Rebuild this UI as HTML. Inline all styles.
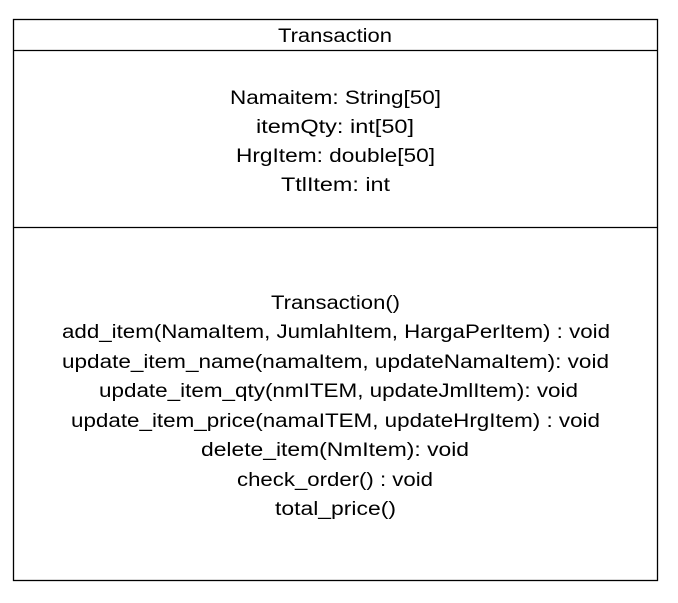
<!DOCTYPE html>
<html><head><meta charset="utf-8"><style>
html,body{margin:0;padding:0;background:#fff;width:678px;height:603px;overflow:hidden}
text{font-family:"Liberation Sans",sans-serif;font-size:19px;fill:#000}
</style></head><body>
<svg width="678" height="603" xmlns="http://www.w3.org/2000/svg">
<rect x="13.5" y="19.5" width="644" height="561" fill="#fff" stroke="#000" stroke-width="1.3"/>
<line x1="13" y1="50.5" x2="658" y2="50.5" stroke="#000" stroke-width="1.3"/>
<line x1="13" y1="227.5" x2="658" y2="227.5" stroke="#000" stroke-width="1.3"/>
<g text-anchor="middle" lengthAdjust="spacingAndGlyphs">
<text x="335" y="42" textLength="114" lengthAdjust="spacingAndGlyphs">Transaction</text>
<text x="335.5" y="104" textLength="211" lengthAdjust="spacingAndGlyphs">Namaitem: String[50]</text>
<text x="335" y="133" textLength="158" lengthAdjust="spacingAndGlyphs">itemQty: int[50]</text>
<text x="335.5" y="162" textLength="199" lengthAdjust="spacingAndGlyphs">HrgItem: double[50]</text>
<text x="335.5" y="191" textLength="109" lengthAdjust="spacingAndGlyphs">TtlItem: int</text>
<text x="335.5" y="309" textLength="129" lengthAdjust="spacingAndGlyphs">Transaction()</text>
<text x="336" y="338" textLength="548" lengthAdjust="spacingAndGlyphs">add_item(NamaItem, JumlahItem,  HargaPerItem) : void</text>
<text x="335.5" y="368" textLength="547" lengthAdjust="spacingAndGlyphs">update_item_name(namaItem, updateNamaItem): void</text>
<text x="338.5" y="397" textLength="479" lengthAdjust="spacingAndGlyphs">update_item_qty(nmITEM, updateJmlItem): void</text>
<text x="335.5" y="427" textLength="529" lengthAdjust="spacingAndGlyphs">update_item_price(namaITEM, updateHrgItem) : void</text>
<text x="335" y="456" textLength="268" lengthAdjust="spacingAndGlyphs">delete_item(NmItem): void</text>
<text x="335" y="486" textLength="196" lengthAdjust="spacingAndGlyphs">check_order() : void</text>
<text x="335.5" y="515" textLength="121" lengthAdjust="spacingAndGlyphs">total_price()</text>
</g>
</svg>
</body></html>
